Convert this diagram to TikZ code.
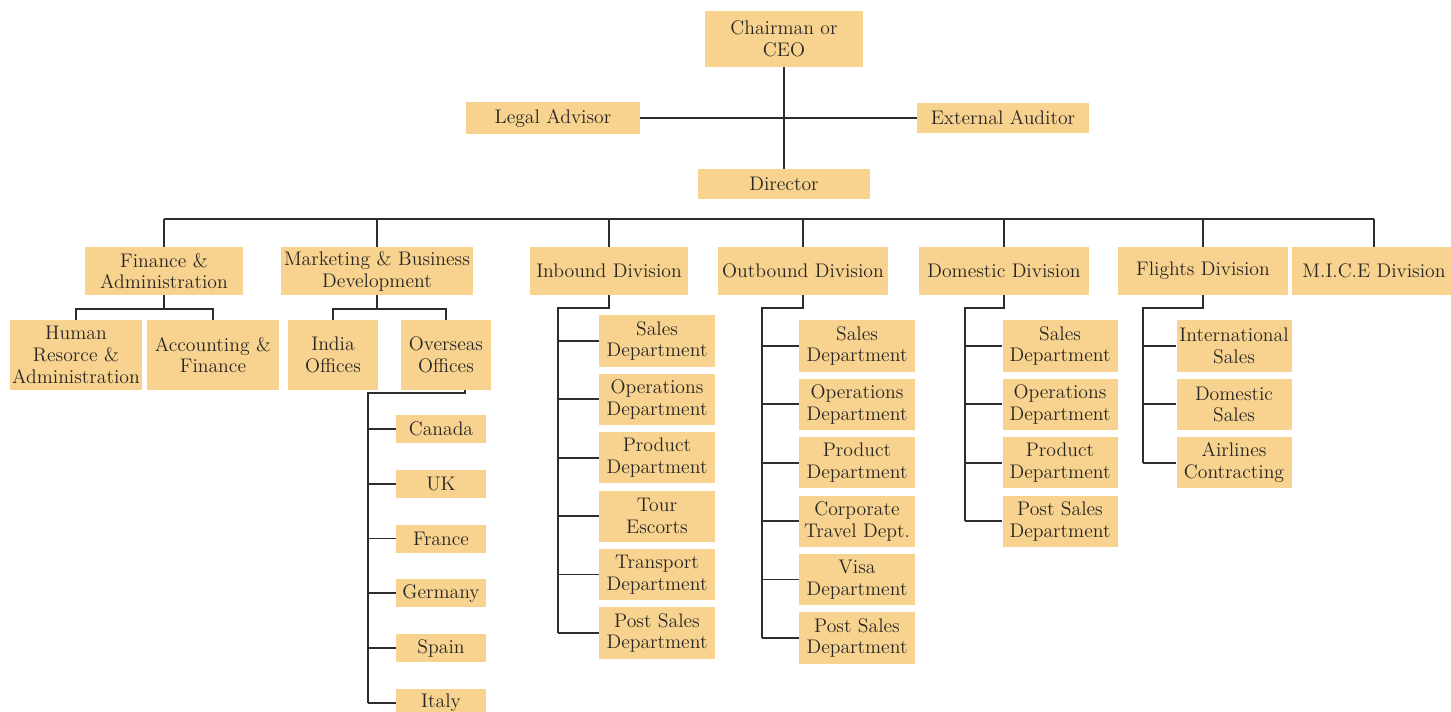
\documentclass[tikz,border=0pt]{standalone}
\usetikzlibrary{positioning}
\definecolor{boxfill}{RGB}{248,211,143}
\definecolor{wirecol}{RGB}{45,45,45}
\definecolor{inkcol}{RGB}{40,38,36}
\tikzset{
  box/.style={fill=boxfill, text=inkcol, inner sep=0pt, align=center,
    font=\fontsize{14}{15.5}\selectfont},
  wire/.style={draw=wirecol, line width=1.3pt},
  div/.style={box, minimum height=1.2cm},
  sub/.style={box, minimum height=1.75cm},
  dept/.style={box, minimum width=2.875cm, minimum height=1.28cm},
  land/.style={box, minimum width=2.25cm, minimum height=0.7cm},
}

\begin{document}
\begin{tikzpicture}[x=0.025cm, y=-0.025cm]
        \useasboundingbox (0,0) rectangle (1451,711);

        % head of the chart
        \node[box, minimum width=3.95cm, minimum height=1.4cm] (ceo) at (784,39) {Chairman or\\CEO};
        \node[box, minimum width=4.33cm, minimum height=0.78cm] (legal) at (553,118) {Legal Advisor};
        \node[box, minimum width=4.28cm, minimum height=0.75cm] (audit) at (1003,118) {External Auditor};
        \node[box, minimum width=4.3cm, minimum height=0.75cm] (dir) at (784,184) {Director};

        % divisions
        \node[div, minimum width=3.95cm] (fin) at (164,271) {Finance \&\\Administration};
        \node[div, minimum width=4.8cm] (mkt) at (377,271) {Marketing \& Business\\Development};
        \node[div, minimum width=3.95cm] (inb) at (609,271) {Inbound Division};
        \node[div, minimum width=4.23cm] (outb) at (803,271) {Outbound Division};
        \node[div, minimum width=4.25cm] (dom) at (1004,271) {Domestic Division};
        \node[div, minimum width=4.25cm] (flt) at (1203,271) {Flights Division};
        \node[div, minimum width=4.1cm] (mice) at (1374,271) {M.I.C.E Division};

        % finance and marketing
        \node[sub, minimum width=3.3cm] (hr) at (76,355) {Human\\Resorce \&\\Administration};
        \node[sub, minimum width=3.3cm] (acc) at (213,355) {Accounting \&\\Finance};
        \node[sub, minimum width=2.25cm] (india) at (333,355) {India\\Offices};
        \node[sub, minimum width=2.25cm] (ovs) at (446,355) {Overseas\\Offices};

        \node[land] (canada) at (441,429) {Canada};
        \node[land, below=0.655cm of canada] (uk) {UK};
        \node[land, below=0.655cm of uk] (france) {France};
        \node[land, below=0.655cm of france] (germany) {Germany};
        \node[land, below=0.655cm of germany] (spain) {Spain};
        \node[land, below=0.655cm of spain] (italy) {Italy};

        % inbound
        \node[dept] (in1) at (657,341) {Sales\\Department};
        \node[dept, below=0.165cm of in1] (in2) {Operations\\Department};
        \node[dept, below=0.165cm of in2] (in3) {Product\\Department};
        \node[dept, below=0.165cm of in3] (in4) {Tour\\Escorts};
        \node[dept, below=0.165cm of in4] (in5) {Transport\\Department};
        \node[dept, below=0.165cm of in5] (in6) {Post Sales\\Department};

        % outbound
        \node[dept] (out1) at (857,346) {Sales\\Department};
        \node[dept, below=0.165cm of out1] (out2) {Operations\\Department};
        \node[dept, below=0.165cm of out2] (out3) {Product\\Department};
        \node[dept, below=0.165cm of out3] (out4) {Corporate\\Travel Dept.};
        \node[dept, below=0.165cm of out4] (out5) {Visa\\Department};
        \node[dept, below=0.165cm of out5] (out6) {Post Sales\\Department};

        % domestic
        \node[dept] (dm1) at (1060,346) {Sales\\Department};
        \node[dept, below=0.165cm of dm1] (dm2) {Operations\\Department};
        \node[dept, below=0.165cm of dm2] (dm3) {Product\\Department};
        \node[dept, below=0.165cm of dm3] (dm4) {Post Sales\\Department};

        % flights
        \node[dept] (fl1) at (1234,346) {International\\Sales};
        \node[dept, below=0.165cm of fl1] (fl2) {Domestic\\Sales};
        \node[dept, below=0.165cm of fl2] (fl3) {Airlines\\Contracting};

        % lines
        \draw[wire] (ceo.south) -- (dir.north);
        \draw[wire] (legal.east) -- (audit.west);

        \coordinate (bus) at (0,219);
        \draw[wire] (fin.north |- bus) -- (mice.north |- bus);
        \draw[wire] (fin.north) -- (fin.north |- bus)
                    (mkt.north) -- (mkt.north |- bus)
                    (inb.north) -- (inb.north |- bus)
                    (outb.north) -- (outb.north |- bus)
                    (dom.north) -- (dom.north |- bus)
                    (flt.north) -- (flt.north |- bus)
                    (mice.north) -- (mice.north |- bus);

        \draw[wire] (fin.south) -- ++(0,14) -| (hr.north);
        \draw[wire] (fin.south) ++(0,14) -| (acc.north);
        \draw[wire] (mkt.south) -- ++(0,14) -| (india.north);
        \draw[wire] (mkt.south) ++(0,14) -| (ovs.north);

        \coordinate (ovsp) at (368,393);
        \draw[wire] ([xshift=0.475cm]ovs.south) |- (ovsp) -- (ovsp |- italy.west);
        \draw[wire] (ovsp |- canada.west) -- (canada.west)
                    (ovsp |- uk.west) -- (uk.west)
                    (ovsp |- france.west) -- (france.west)
                    (ovsp |- germany.west) -- (germany.west)
                    (ovsp |- spain.west) -- (spain.west)
                    (ovsp |- italy.west) -- (italy.west);

        \coordinate (insp) at (558,308);
        \draw[wire] (inb.south) |- (insp) -- (insp |- in6.west);
        \draw[wire] (insp |- in1.west) -- (in1.west)
                    (insp |- in2.west) -- (in2.west)
                    (insp |- in3.west) -- (in3.west)
                    (insp |- in4.west) -- (in4.west)
                    (insp |- in5.west) -- (in5.west)
                    (insp |- in6.west) -- (in6.west);

        \coordinate (outsp) at (762,308);
        \draw[wire] (outb.south) |- (outsp) -- (outsp |- out6.west);
        \draw[wire] (outsp |- out1.west) -- (out1.west)
                    (outsp |- out2.west) -- (out2.west)
                    (outsp |- out3.west) -- (out3.west)
                    (outsp |- out4.west) -- (out4.west)
                    (outsp |- out5.west) -- (out5.west)
                    (outsp |- out6.west) -- (out6.west);

        \coordinate (dmsp) at (965,308);
        \draw[wire] (dom.south) |- (dmsp) -- (dmsp |- dm4.west);
        \draw[wire] (dmsp |- dm1.west) -- (dm1.west)
                    (dmsp |- dm2.west) -- (dm2.west)
                    (dmsp |- dm3.west) -- (dm3.west)
                    (dmsp |- dm4.west) -- (dm4.west);

        \coordinate (flsp) at (1143,308);
        \draw[wire] (flt.south) |- (flsp) -- (flsp |- fl3.west);
        \draw[wire] (flsp |- fl1.west) -- (fl1.west)
                    (flsp |- fl2.west) -- (fl2.west)
                    (flsp |- fl3.west) -- (fl3.west);
\end{tikzpicture}
\end{document}
